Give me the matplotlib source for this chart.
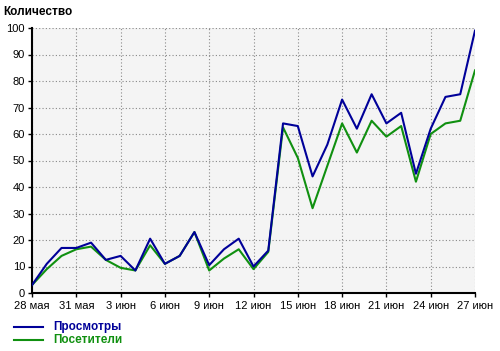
import matplotlib
matplotlib.use("Agg")
import matplotlib.pyplot as plt
from matplotlib.lines import Line2D

plt.rcParams['font.family'] = ['Liberation Sans', 'DejaVu Sans']

days = list(range(31))
tick_labels = ["28 мая", "31 мая", "3 июн", "6 июн", "9 июн", "12 июн",
               "15 июн", "18 июн", "21 июн", "24 июн", "27 июн"]
views = [3, 11, 17, 17, 19, 12.5, 14, 8.5, 20.5, 11, 14, 23, 10.5, 16.5, 20.5, 10,
         16, 64, 63, 44, 56, 73, 62, 75, 64, 68, 45, 62, 74, 75, 99]
visitors = [3, 9, 14, 16.5, 17.5, 12.5, 9.5, 8.5, 18, 11, 14, 23, 8.5, 13, 16.5, 9,
            15.5, 62.5, 51, 32, 48, 64, 53, 65, 59, 63, 42, 60, 64, 65, 84]
series_names = ["Просмотры", "Посетители"]
colors = ["#000099", "#109010"]

fig = plt.figure(figsize=(5.0, 3.51), dpi=100)
ax = fig.add_axes([32/500, 1-293/351, (475-32)/500, (293-28)/351])
ax.set_facecolor("#f4f4f4")

ax.plot(days, views, color=colors[0], lw=1.5, zorder=3)
ax.plot(days, visitors, color=colors[1], lw=1.5, zorder=2)

ax.set_xlim(0, 30)
ax.set_ylim(0, 100)
ax.set_xticks(range(0, 31, 3))
ax.set_xticklabels(tick_labels)
ax.set_yticks(range(0, 101, 10))
ax.grid(True, color="#888888", linestyle=(0, (1, 2)), lw=0.8)
for s in ["top", "right"]:
    ax.spines[s].set_visible(False)
for s in ["left", "bottom"]:
    ax.spines[s].set_linewidth(1.5)
    ax.spines[s].set_color("black")
ax.tick_params(axis="both", labelsize=8, length=3, width=1, pad=2, colors="black")
ax.tick_params(axis="x", pad=3)

fig.text(3/500, 1-12/351, "Количество", fontsize=8.5, fontweight="bold", va="center", ha="left")

# legend
for i, (name, c) in enumerate(zip(series_names, colors)):
    y = 1 - (327 + 13*i)/351
    fig.add_artist(Line2D([14/500, 43/500], [y, y], color=c, lw=1.5))
    fig.text(53/500, y, name, color=c, fontsize=8.5, fontweight="bold", va="center", ha="left")

fig.savefig("out.png", dpi=100)
